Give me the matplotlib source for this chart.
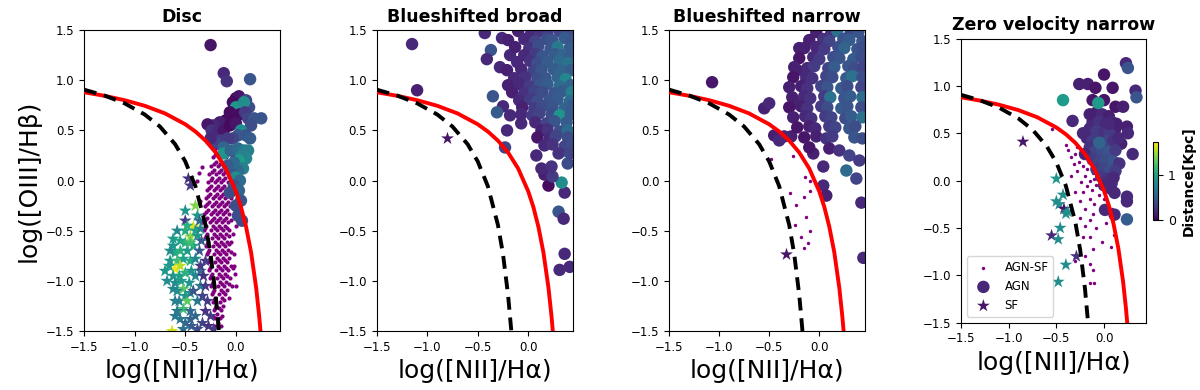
import numpy as np
import matplotlib.pyplot as plt

# demarcation curves (red solid and black dashed)
kew_x = [-1.5, -1.3, -1.1, -0.9, -0.7, -0.5, -0.4, -0.3, -0.2, -0.1, 0.0, 0.05, 0.1, 0.15, 0.2, 0.23, 0.25]
kew_y = [0.880, 0.845, 0.801, 0.745, 0.669, 0.561, 0.489, 0.398, 0.280, 0.120, -0.108, -0.262, -0.459, -0.716, -1.069, -1.352, -1.583]
kau_x = [-1.5, -1.3, -1.1, -0.9, -0.75, -0.6, -0.5, -0.4, -0.3, -0.25, -0.2, -0.17, -0.15]
kau_y = [0.906, 0.848, 0.770, 0.658, 0.538, 0.362, 0.191, -0.056, -0.443, -0.733, -1.14, -1.473, -1.75]

titles = ['Disc', 'Blueshifted broad', 'Blueshifted narrow', 'Zero velocity narrow']

# ---------------- Disc ----------------
disc_agn_x = [-0.25, -0.12, -0.09, 0.14, 0.0, 0.03, -0.03, 0.05, 0.1, 0.13, 0.0, 0.08, -0.06, -0.02, 0.04,
              0.09, 0.12, 0.18, 0.25, 0.15, -0.1, -0.16, -0.22, -0.28, -0.24, -0.18, -0.12, -0.06, 0.0, 0.05,
              0.02, 0.1, 0.14, -0.03, -0.08, -0.15, -0.2, -0.25, -0.12, -0.12, -0.05, 0.02, 0.08, 0.12, 0.1,
              0.05, 0.03, -0.02, -0.08, 0.07, 0.02, -0.03, 0.0, 0.04, -0.02, 0.03, 0.05, 0.0, 0.02, 0.06, -0.06]
disc_agn_y = [1.35, 1.07, 0.99, 1.01, 0.82, 0.84, 0.78, 0.76, 0.80, 0.73, 0.73, 0.78, 0.68, 0.65, 0.66,
              0.68, 0.62, 0.62, 0.62, 0.55, 0.60, 0.58, 0.55, 0.56, 0.50, 0.48, 0.50, 0.55, 0.57, 0.50,
              0.45, 0.45, 0.42, 0.42, 0.42, 0.40, 0.38, 0.42, 0.33, 0.27, 0.30, 0.32, 0.30, 0.30, 0.22,
              0.24, 0.20, 0.18, 0.15, 0.12, 0.10, 0.06, 0.03, 0.0, -0.05, -0.10, -0.20, -0.25, -0.35, -0.40, -0.12]
disc_agn_d = [0.1, 0.2, 0.25, 0.45, 0.05, 0.1, 0.05, 0.1, 0.35, 0.4, 0.9, 0.85, 0.05, 0.05, 0.05,
              0.3, 0.35, 0.45, 0.45, 0.4, 0.05, 0.15, 0.2, 0.1, 0.25, 0.2, 0.1, 0.05, 0.1, 0.85,
              0.5, 0.45, 0.5, 0.35, 0.3, 0.3, 0.35, 0.2, 0.55, 0.9, 0.55, 0.6, 0.7, 0.75, 0.8,
              0.75, 0.95, 0.6, 0.5, 0.75, 0.6, 0.5, 0.85, 0.6, 0.45, 0.55, 0.45, 0.4, 0.4, 0.4, 0.4]

disc_sf_x = [-0.45, -0.47, -0.5, -0.4, -0.42, -0.45, -0.58, -0.55, -0.5, -0.62, -0.6, -0.55, -0.48, -0.42,
             -0.38, -0.65, -0.58, -0.52, -0.45, -0.4, -0.6, -0.55, -0.66, -0.62, -0.56, -0.5, -0.44, -0.68,
             -0.6, -0.54, -0.52, -0.46, -0.58, -0.5, -0.56, -0.48, -0.52, -0.58, -0.55, -0.45, -0.5, -0.44,
             -0.63, -0.35, -0.38, -0.4,
             -0.62, -0.5, -0.45, -0.4, -0.35, -0.65, -0.7, -0.62, -0.45, -0.4, -0.6, -0.6, -0.52, -0.45,
             -0.38, -0.5, -0.35, -0.48,
             -0.35, -0.32, -0.3, -0.33, -0.28, -0.3, -0.25, -0.33, -0.27, -0.22, -0.38, -0.3, -0.42, -0.36,
             -0.34, -0.36]
disc_sf_y = [-0.05, 0.02, -0.4, -0.25, -0.46, -0.56, -0.5, -0.6, -0.62, -0.65, -0.72, -0.7, -0.7, -0.65,
             -0.55, -0.8, -0.8, -0.78, -0.8, -0.78, -0.88, -0.85, -0.85, -0.95, -0.95, -0.92, -0.9, -1.0,
             -1.02, -1.0, -1.08, -1.02, -1.1, -1.15, -1.2, -1.2, -1.28, -1.3, -1.38, -1.3, -1.42, -1.45,
             -1.5, -1.05, -1.2, -1.35,
             -0.58, -0.5, -0.62, -0.5, -0.48, -0.7, -0.9, -1.08, -1.12, -0.95, -1.2, -1.35, -1.48, -1.38,
             -0.35, -0.3, -0.9, -0.45,
             -0.85, -0.95, -1.05, -1.15, -1.2, -1.3, -1.35, -1.42, -1.45, -1.48, -1.48, -0.8, -1.1, -0.7,
             -0.6, -0.4]
disc_sf_d = [0.3, 0.25, 0.3, 1.4, 1.65, 1.45, 0.8, 1.0, 1.1, 0.9, 1.05, 1.1, 0.95, 1.0,
             0.9, 0.9, 1.2, 1.0, 1.05, 0.8, 1.7, 1.55, 0.95, 0.9, 1.0, 1.1, 0.9, 0.85,
             0.85, 0.95, 1.3, 0.9, 0.85, 0.9, 0.75, 1.3, 1.2, 0.7, 0.7, 0.6, 0.6, 0.5,
             1.6, 0.7, 0.7, 0.6,
             0.95, 1.05, 1.2, 1.0, 0.8, 0.85, 0.9, 0.8, 0.85, 0.8, 0.75, 0.7, 0.65, 0.55,
             0.9, 0.9, 0.6, 1.1,
             0.3, 0.25, 0.3, 0.35, 0.3, 0.25, 0.3, 0.35, 0.25, 0.3, 0.4, 0.3, 0.45, 0.5,
             0.5, 0.6]

# AGN-SF points of the disc, one row per y level: (y, x values)
disc_mix_rows = [
    (0.36, [-0.17, -0.11]), (0.31, [-0.21, -0.14, -0.08, -0.03]), (0.27, [-0.19, -0.12, -0.06]),
    (0.23, [-0.23, -0.17, -0.10, -0.04]), (0.19, [-0.20, -0.14, -0.08]),
    (0.15, [-0.25, -0.18, -0.12, -0.06, -0.01]), (0.11, [-0.22, -0.15, -0.09, -0.03]),
    (0.07, [-0.27, -0.20, -0.13, -0.07]), (0.03, [-0.24, -0.17, -0.11, -0.04]),
    (-0.01, [-0.28, -0.21, -0.15, -0.08, -0.02]), (-0.05, [-0.25, -0.18, -0.12, -0.06]),
    (-0.09, [-0.29, -0.22, -0.16, -0.10, -0.04]), (-0.13, [-0.26, -0.19, -0.13, -0.07]),
    (-0.17, [-0.30, -0.23, -0.17, -0.11, -0.05]), (-0.21, [-0.27, -0.20, -0.14, -0.08]),
    (-0.25, [-0.31, -0.24, -0.18, -0.12, -0.06]), (-0.29, [-0.28, -0.21, -0.15, -0.09]),
    (-0.33, [-0.32, -0.25, -0.19, -0.13, -0.07]), (-0.37, [-0.29, -0.22, -0.16, -0.10]),
    (-0.41, [-0.33, -0.26, -0.20, -0.14, -0.08]), (-0.45, [-0.30, -0.23, -0.17, -0.11]),
    (-0.49, [-0.32, -0.25, -0.19, -0.13, -0.07]), (-0.53, [-0.29, -0.22, -0.16, -0.10, -0.03]),
    (-0.57, [-0.31, -0.24, -0.18, -0.12]), (-0.61, [-0.28, -0.21, -0.15, -0.09, -0.05]),
    (-0.65, [-0.30, -0.23, -0.17, -0.11]), (-0.69, [-0.27, -0.20, -0.14, -0.08]),
    (-0.73, [-0.29, -0.22, -0.16, -0.10, -0.02]), (-0.77, [-0.26, -0.19, -0.13, -0.07]),
    (-0.81, [-0.28, -0.21, -0.15, -0.09]), (-0.85, [-0.25, -0.18, -0.12, -0.05]),
    (-0.89, [-0.27, -0.20, -0.14, -0.08]), (-0.93, [-0.24, -0.17, -0.11, -0.01]),
    (-0.97, [-0.26, -0.19, -0.13, -0.06]), (-1.01, [-0.23, -0.16, -0.10]),
    (-1.05, [-0.25, -0.18, -0.12, -0.04]), (-1.09, [-0.22, -0.15, -0.09]),
    (-1.13, [-0.24, -0.17, -0.11]), (-1.17, [-0.21, -0.14, -0.07]), (-1.21, [-0.23, -0.16]),
    (-1.25, [-0.20, -0.13]), (-1.29, [-0.22, -0.15]), (-1.33, [-0.19]), (-1.37, [-0.21, -0.16]),
    (-1.42, [-0.18]),
    (0.33, [-0.19, -0.14, -0.06]), (0.25, [-0.21, -0.15, -0.09, -0.02]),
    (0.17, [-0.22, -0.16, -0.10, -0.04]), (0.09, [-0.24, -0.17, -0.11, -0.05]),
    (0.01, [-0.25, -0.19, -0.13, -0.05]), (-0.07, [-0.27, -0.20, -0.14, -0.07, -0.01]),
    (-0.15, [-0.28, -0.21, -0.15, -0.09]), (-0.23, [-0.29, -0.22, -0.16, -0.10, -0.03]),
    (-0.31, [-0.30, -0.23, -0.17, -0.11]), (-0.39, [-0.31, -0.24, -0.18, -0.12, -0.05]),
    (-0.47, [-0.31, -0.21, -0.15, -0.09]), (-0.55, [-0.30, -0.20, -0.14, -0.07]),
    (-0.63, [-0.29, -0.19, -0.13, -0.07]), (-0.71, [-0.28, -0.18, -0.12, -0.05]),
    (-0.79, [-0.27, -0.17, -0.11]), (-0.87, [-0.26, -0.16, -0.10, -0.03]),
    (-0.95, [-0.25, -0.15, -0.09]), (-1.03, [-0.24, -0.14, -0.07]), (-1.11, [-0.23, -0.13]),
    (-1.19, [-0.22, -0.12]), (-1.27, [-0.21, -0.17]), (-1.35, [-0.23, -0.14]), (-1.45, [-0.21, -0.15]),
    (0.08, [-0.36]), (0.14, [-0.33]), (0.0, [-0.38]), (-0.45, [0.0]), (-0.85, [-0.02]),
    (-1.05, [0.0]), (-0.2, [-0.35]),
]

# ---------------- Blueshifted broad ----------------
bb_agn_x = [-1.15, -1.1, -0.43, -0.26, -0.37, -0.41, -0.18, -0.28, -0.35, -0.25, -0.31, -0.18, -0.21, -0.07,
            -0.23, 0.08, 0.2, 0.16, 0.3, 0.35, 0.36, 0.31, 0.41, 0.36, 0.33, 0.24, 0.13, 0.23, 0.39, 0.38,
            -0.1, 0.03, 0.11, 0.19, 0.31, 0.4,
            -0.2, -0.04, 0.07, 0.18, 0.24, 0.36, 0.43,
            -0.13, 0.01, 0.1, 0.22, 0.29, 0.41,
            -0.04, 0.07, 0.14, 0.26, 0.34, 0.42,
            -0.11, 0.02, 0.09, 0.19, 0.31, 0.39,
            -0.21, -0.07, 0.05, 0.13, 0.25, 0.33, 0.43,
            -0.14, -0.03, 0.09, 0.17, 0.29, 0.37,
            -0.2, -0.09, 0.01, 0.11, 0.19, 0.31, 0.42,
            -0.16, -0.04, 0.06, 0.14, 0.26, 0.34, 0.43,
            -0.09, 0.02, 0.09, 0.21, 0.29, 0.41,
            -0.06, 0.06, 0.14, 0.24, 0.36, 0.43,
            -0.07, 0.04, 0.11, 0.23, 0.31, 0.42,
            0.07, 0.18, 0.26, 0.38,
            0.13, 0.19, 0.31, 0.39,
            0.09, 0.21, 0.27, 0.39,
            0.16, 0.24, 0.36, 0.43,
            0.3, 0.42]
bb_agn_y = [1.36, 0.9, 1.47, 1.42, 1.3, 1.21, 1.25, 1.13, 0.84, 0.74, 0.68, 0.65, 0.5, 0.57,
            0.33, 0.25, -0.05, 0.06, -0.31, -0.38, -0.73, -0.89, -0.86, -0.12, -0.02, 0.04, 0.12, 0.14, 0.17, 0.29,
            1.49, 1.47, 1.49, 1.48, 1.49, 1.48,
            1.4, 1.41, 1.39, 1.41, 1.4, 1.42, 1.39,
            1.33, 1.32, 1.34, 1.31, 1.33, 1.32,
            1.25, 1.26, 1.24, 1.26, 1.25, 1.24,
            1.18, 1.19, 1.17, 1.18, 1.19, 1.17,
            1.1, 1.11, 1.09, 1.1, 1.11, 1.09, 1.1,
            1.02, 1.03, 1.01, 1.02, 1.03, 1.01,
            0.95, 0.96, 0.94, 0.95, 0.96, 0.94, 0.95,
            0.88, 0.87, 0.89, 0.88, 0.87, 0.89, 0.88,
            0.8, 0.81, 0.79, 0.8, 0.81, 0.79,
            0.73, 0.72, 0.74, 0.73, 0.72, 0.74,
            0.66, 0.65, 0.67, 0.66, 0.65, 0.66,
            0.58, 0.57, 0.59, 0.58,
            0.5, 0.51, 0.49, 0.5,
            0.43, 0.42, 0.44, 0.43,
            0.35, 0.36, 0.34, 0.35,
            0.27, 0.27]
bb_agn_d = [0.2, 0.15, 0.2, 0.2, 0.45, 0.2, 0.2, 0.2, 0.45, 0.2, 0.5, 0.2, 0.2, 0.2,
            0.35, 0.2, 0.05, 0.15, 0.45, 0.2, 0.2, 0.2, 0.2, 0.2, 0.85, 0.3, 0.2, 0.25, 0.4, 0.9,
            0.15, 0.2, 0.25, 0.3, 0.35, 0.4,
            0.15, 0.2, 0.35, 0.4, 0.45, 0.5, 0.45,
            0.15, 0.25, 0.4, 0.45, 0.7, 0.5,
            0.2, 0.3, 0.45, 0.5, 0.55, 0.5,
            0.2, 0.25, 0.4, 0.5, 0.6, 0.65,
            0.15, 0.2, 0.35, 0.45, 0.5, 0.55, 0.5,
            0.2, 0.25, 0.4, 0.45, 0.55, 0.8,
            0.15, 0.2, 0.3, 0.45, 0.5, 0.6, 0.55,
            0.15, 0.25, 0.35, 0.4, 0.45, 0.5, 0.75,
            0.2, 0.3, 0.4, 0.45, 0.5, 0.6,
            0.15, 0.3, 0.4, 0.45, 0.55, 0.5,
            0.2, 0.3, 0.35, 0.4, 0.9, 0.5,
            0.2, 0.35, 0.45, 0.5,
            0.15, 0.25, 0.4, 0.6,
            0.1, 0.2, 0.35, 0.4,
            0.2, 0.25, 0.35, 0.4,
            0.25, 0.35]
bb_sf_x = [-0.8]
bb_sf_y = [0.42]
bb_sf_d = [0.1]

# ---------------- Blueshifted narrow ----------------
bn_agn_x = [-1.07, -0.2, -0.22, -0.13, -0.23, -0.28, 0.04, 0.07, 0.42, 0.44, 0.37, -0.06, 0.04, 0.27,
            -0.55, -0.5, -0.45, -0.35, -0.4,
            -0.03, 0.12, 0.18, 0.31, 0.39,
            -0.1, 0.04, 0.1, 0.24, 0.3, 0.43,
            -0.15, -0.03, 0.05, 0.19, 0.25, 0.38, 0.44,
            -0.2, -0.06, 0.0, 0.14, 0.2, 0.34, 0.42,
            -0.25, -0.12, -0.05, 0.09, 0.15, 0.29, 0.35, 0.44,
            -0.26, -0.13, -0.07, 0.07, 0.13, 0.27, 0.33, 0.43,
            -0.3, -0.18, -0.12, 0.02, 0.08, 0.22, 0.28, 0.42,
            -0.27, -0.15, -0.09, 0.05, 0.11, 0.25, 0.31, 0.43,
            -0.3, -0.18, -0.12, 0.02, 0.08, 0.22, 0.28, 0.42,
            -0.26, -0.14, -0.08, 0.06, 0.12, 0.26, 0.32, 0.43,
            -0.22, -0.1, -0.04, 0.1, 0.16, 0.3, 0.36,
            -0.15, -0.03, 0.07, 0.13, 0.35, 0.43,
            -0.1, 0.1, 0.2, 0.3, 0.4]
bn_agn_y = [0.98, 1.32, 1.1, 1.0, 0.77, 0.44, -0.05, -0.15, -0.22, -0.77, 0.02, 0.27, 0.14, 0.1,
            0.72, 0.77, 0.45, 0.44, 0.4,
            1.48, 1.47, 1.49, 1.46, 1.48,
            1.4, 1.41, 1.39, 1.41, 1.4, 1.39,
            1.32, 1.33, 1.31, 1.33, 1.32, 1.31, 1.33,
            1.22, 1.23, 1.21, 1.23, 1.22, 1.21, 1.23,
            1.13, 1.12, 1.14, 1.12, 1.13, 1.14, 1.12, 1.13,
            1.03, 1.04, 1.02, 1.04, 1.03, 1.02, 1.04, 1.03,
            0.93, 0.94, 0.92, 0.94, 0.93, 0.92, 0.94, 0.93,
            0.83, 0.84, 0.82, 0.84, 0.83, 0.82, 0.84, 0.83,
            0.73, 0.74, 0.72, 0.74, 0.73, 0.72, 0.74, 0.73,
            0.63, 0.64, 0.62, 0.64, 0.63, 0.62, 0.64, 0.63,
            0.53, 0.54, 0.52, 0.54, 0.53, 0.52, 0.54,
            0.43, 0.44, 0.42, 0.44, 0.43, 0.42,
            0.33, 0.32, 0.3, 0.25, 0.2]
bn_agn_d = [0.1, 0.15, 0.15, 0.2, 0.2, 0.15, 0.2, 0.15, 0.2, 0.2, 0.35, 0.15, 0.2, 0.6,
            0.15, 0.2, 0.15, 0.2, 0.2,
            0.15, 0.25, 0.65, 0.35, 0.45,
            0.15, 0.25, 0.35, 0.45, 0.5, 0.45,
            0.15, 0.2, 0.3, 0.4, 0.55, 0.45, 0.4,
            0.1, 0.2, 0.3, 0.4, 0.45, 0.5, 0.4,
            0.15, 0.2, 0.3, 0.35, 0.5, 0.45, 0.4, 0.35,
            0.1, 0.2, 0.25, 0.35, 0.4, 0.5, 0.65, 0.4,
            0.15, 0.15, 0.25, 0.35, 0.45, 0.5, 0.4, 0.35,
            0.15, 0.2, 0.25, 0.3, 0.65, 0.45, 0.5, 0.6,
            0.1, 0.15, 0.25, 0.3, 0.4, 0.5, 0.45, 0.4,
            0.15, 0.2, 0.25, 0.3, 0.35, 0.4, 0.5, 0.65,
            0.1, 0.15, 0.2, 0.3, 0.35, 0.45, 0.4,
            0.1, 0.15, 0.25, 0.3, 0.45, 0.4,
            0.1, 0.15, 0.25, 0.35, 0.3]
bn_mix_x = [-0.48, -0.26, -0.14, -0.09, -0.29, -0.15, -0.09, -0.23, -0.13, -0.24, -0.09, -0.18, -0.11, -0.15]
bn_mix_y = [0.21, 0.24, 0.04, 0.0, -0.12, -0.16, -0.1, -0.24, -0.36, -0.44, -0.5, -0.56, -0.62, -0.67]
bn_sf_x = [-0.33]
bn_sf_y = [-0.73]
bn_sf_d = [0.1]

# ---------------- Zero velocity narrow ----------------
zv_agn_x = [0.23, 0.25, 0.0, -0.26, -0.17, -0.09, 0.09, 0.33, 0.34, -0.43, -0.12, 0.0, 0.12, 0.2,
            -0.33, -0.22, 0.24, 0.25, 0.18, 0.3, 0.24, 0.24, 0.24, 0.11, 0.01, 0.11, 0.08,
            -0.08, -0.02, 0.05, -0.12, -0.05, 0.02, 0.08, 0.12, -0.15, -0.08, 0.0, 0.06, -0.18, -0.12,
            0.04, 0.1, 0.15, -0.15, -0.1, -0.02, 0.05, 0.12, -0.2, -0.12, -0.05, 0.02, 0.1, 0.16,
            -0.08, 0.0, 0.06, 0.12, -0.03, 0.04, 0.1, 0.0, 0.06, 0.13, 0.05, -0.15, -0.06, -0.05]
zv_agn_y = [1.24, 1.19, 1.12, 1.02, 1.02, 0.98, 0.98, 0.95, 0.88, 0.85, 0.85, 0.85, 0.78, 0.78,
            0.63, 0.5, 0.57, 0.5, 0.39, 0.28, -0.17, -0.22, -0.41, -0.13, -0.31, -0.36, -0.03,
            0.72, 0.7, 0.68, 0.62, 0.62, 0.6, 0.62, 0.55, 0.55, 0.52, 0.5, 0.5, 0.45, 0.42,
            0.42, 0.42, 0.45, 0.35, 0.3, 0.32, 0.3, 0.32, 0.28, 0.22, 0.2, 0.22, 0.2, 0.18,
            0.12, 0.12, 0.1, 0.1, 0.04, 0.02, 0.03, -0.05, -0.08, 0.6, 0.6, 0.7, 0.82, 0.4]
zv_agn_d = [0.2, 0.45, 0.1, 0.15, 0.15, 0.1, 0.1, 0.2, 0.45, 0.95, 0.1, 0.1, 0.1, 0.15,
            0.2, 0.2, 0.15, 0.2, 0.15, 0.2, 0.2, 0.2, 0.5, 0.2, 0.2, 0.2, 0.25,
            0.15, 0.2, 0.15, 0.2, 0.25, 0.2, 0.2, 0.15, 0.2, 0.3, 0.25, 0.3, 0.2, 0.3,
            0.35, 0.25, 0.2, 0.25, 0.35, 0.4, 0.45, 0.3, 0.2, 0.3, 0.35, 0.4, 0.45, 0.25,
            0.3, 0.35, 0.4, 0.3, 0.3, 0.25, 0.2, 0.2, 0.2, 0.15, 0.2, 0.15, 0.95, 0.55]
zv_mix_x = [-0.55, -0.4, -0.38, -0.35, -0.3, -0.32, -0.26, -0.22, -0.18, -0.28, -0.2, -0.15, -0.12,
            -0.1, -0.24, -0.18, -0.13, -0.08, -0.22, -0.3, -0.05, -0.15, -0.25, -0.1, 0.0, 0.05,
            -0.2, -0.12, -0.03, 0.08, -0.25, -0.15, 0.02, -0.2, -0.08, 0.1, -0.15, -0.02, 0.07,
            -0.12, -0.2, -0.15, -0.12, -0.1, -0.15, -0.3, -0.22, -0.05, -0.35, -0.28, 0.05, 0.02]
zv_mix_y = [0.55, 0.38, 0.32, 0.25, 0.28, 0.18, 0.2, 0.15, 0.12, 0.1, 0.05, 0.0, 0.08,
            0.02, -0.02, -0.06, -0.1, -0.05, -0.12, -0.12, -0.15, -0.2, -0.22, -0.25, -0.2, -0.28,
            -0.3, -0.35, -0.32, -0.3, -0.4, -0.42, -0.45, -0.48, -0.5, -0.58, -0.6, -0.65, -0.7,
            -0.72, -0.8, -0.88, -0.95, -1.08, -1.08, -0.85, -0.6, 0.1, 0.05, 0.35, 0.1, -0.05]
zv_sf_x = [-0.85, -0.5, -0.5, -0.47, -0.43, -0.42, -0.38, -0.4, -0.46, -0.55, -0.48, -0.29, -0.4, -0.48]
zv_sf_y = [0.41, 0.02, -0.22, -0.25, -0.15, -0.3, -0.33, -0.35, -0.5, -0.58, -0.62, -0.8, -0.89, -1.07]
zv_sf_d = [0.1, 0.9, 0.85, 0.85, 0.85, 0.1, 0.9, 0.85, 0.85, 0.2, 0.85, 0.25, 0.85, 0.85]

disc_mix_x = [x for y, xs in disc_mix_rows for x in xs]
disc_mix_y = [y for y, xs in disc_mix_rows for x in xs]

panels = [
    (disc_mix_x, disc_mix_y, disc_agn_x, disc_agn_y, disc_agn_d, disc_sf_x, disc_sf_y, disc_sf_d),
    ([], [], bb_agn_x, bb_agn_y, bb_agn_d, bb_sf_x, bb_sf_y, bb_sf_d),
    (bn_mix_x, bn_mix_y, bn_agn_x, bn_agn_y, bn_agn_d, bn_sf_x, bn_sf_y, bn_sf_d),
    (zv_mix_x, zv_mix_y, zv_agn_x, zv_agn_y, zv_agn_d, zv_sf_x, zv_sf_y, zv_sf_d),
]
dot_sizes = [9, 6, 6, 6]

vmin, vmax = 0, 1.73
fig = plt.figure(figsize=(12, 3.9), dpi=100)
positions = [[0.070, 0.151, 0.1633, 0.772],
             [0.3139, 0.151, 0.1638, 0.772],
             [0.5575, 0.151, 0.1633, 0.772],
             [0.8008, 0.173, 0.1542, 0.728]]
xr = [0.435, 0.445, 0.456, 0.44]

for i, (pos, p) in enumerate(zip(positions, panels)):
    mx, my, ax_, ay_, ad_, sx, sy, sd = p
    ax = fig.add_axes(pos)
    ax.scatter(mx, my, s=dot_sizes[i], color='purple', linewidths=0, label='AGN-SF')
    sc = ax.scatter(ax_, ay_, c=ad_, s=80, cmap='viridis', vmin=vmin, vmax=vmax,
                    linewidths=0, label='AGN')
    ax.scatter(sx, sy, c=sd, s=95, marker='*', cmap='viridis', vmin=vmin, vmax=vmax,
               linewidths=0, label='SF')
    ax.plot(kew_x, kew_y, color='red', lw=2.8, zorder=5)
    ax.plot(kau_x, kau_y, color='black', lw=2.8, ls=(0, (3.3, 2.0)), zorder=5)
    ax.set_xlim(-1.5, xr[i])
    ax.set_ylim(-1.5, 1.5)
    ax.set_xticks([-1.5, -1.0, -0.5, 0.0])
    ax.set_yticks([-1.5, -1.0, -0.5, 0.0, 0.5, 1.0, 1.5])
    ax.tick_params(labelsize=8.5)
    ax.set_title(titles[i], fontweight='bold', fontsize=12.5)
    ax.set_xlabel('log([NII]/H\u03b1)', fontsize=18)
    if i == 0:
        ax.set_ylabel('log([OIII]/H\u03b2)', fontsize=18)
    if i == 3:
        leg = ax.legend(loc='lower left', fontsize=8.5)
        cax = fig.add_axes([0.9608, 0.436, 0.0045, 0.2])
        cb = fig.colorbar(sc, cax=cax, ticks=[0, 1])
        cb.ax.tick_params(labelsize=9)
        cb.set_label('Distance[Kpc]', fontweight='bold', fontsize=10)

fig.savefig('out.png', dpi=100)
